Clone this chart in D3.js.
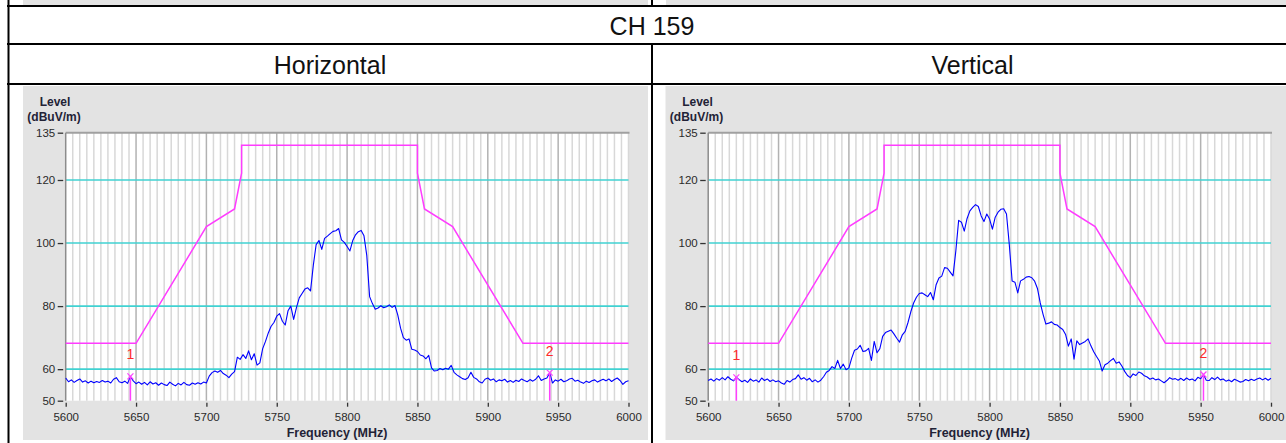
<!DOCTYPE html>
<html>
<head>
  <meta charset="utf-8">
  <title>CH 159</title>
  <script src="https://d3js.org/d3.v7.min.js"></script>
  <style>
    body { margin: 0; background: #fff; overflow: hidden; }
    text { font-family: "Liberation Sans", Arial, sans-serif; }
  </style>
</head>
<body>
<script>
  // table headings
  var channel = 'CH 159';
  var polarisations = ['Horizontal', 'Vertical'];

  // trace sampled every 2 MHz, 5600..6000
  var freqs = d3.range(5600, 6001, 2);

  var levelH = [
    57.2, 56.0, 56.6, 55.8, 56.4, 56.9, 55.9, 56.3, 55.6, 56.2,
    55.7, 56.1, 55.8, 56.4, 55.9, 56.2, 55.6, 56.8, 57.3, 56.0,
    55.7, 56.2, 55.5, 57.7, 56.3, 55.4, 55.9, 55.2, 55.8, 55.0,
    56.0, 55.3, 55.7, 54.9, 55.6, 55.1, 54.8, 55.9, 55.2, 54.7,
    55.5, 55.0, 55.8, 55.1, 54.9, 55.6, 55.2, 55.7, 55.3, 55.9,
    55.6, 57.8, 58.9, 59.4, 59.0, 59.6, 58.6, 58.1, 57.3, 58.4,
    59.2, 63.8, 63.1, 64.6, 63.4, 65.8, 63.0, 64.9, 61.3, 62.0,
    66.5, 68.8, 71.5, 73.6, 74.8, 76.8, 77.6, 75.2, 74.0, 78.5,
    80.0, 75.8, 79.5, 82.6, 84.0, 85.4, 85.8, 84.8, 93.0, 99.5,
    100.8, 98.0, 101.5, 102.2, 103.0, 103.7, 103.9, 104.6, 101.0, 100.2,
    98.9, 97.5, 100.8, 102.6, 103.6, 104.0, 102.3, 96.0, 83.0, 80.8,
    79.0, 79.4, 80.1, 79.5, 79.8, 80.4, 79.6, 80.2, 77.2, 73.0,
    70.0, 69.2, 69.6, 66.3, 66.1, 65.6, 64.5, 64.2, 63.3, 64.4,
    60.4, 59.4, 59.6, 60.2, 59.8, 60.3, 60.0, 61.2, 59.0, 58.2,
    57.6, 57.0, 56.7, 57.3, 59.0, 57.4, 56.9, 56.0, 55.6, 56.8,
    57.2, 56.5, 56.9, 56.0, 56.6, 56.3, 56.8, 55.9, 56.4, 55.8,
    56.5, 56.1, 56.9, 56.4, 56.0, 56.7, 56.2, 56.8, 57.9, 56.4,
    56.9, 57.2, 58.9, 55.6, 56.6, 56.2, 56.8, 56.0, 56.3, 56.9,
    57.1, 56.2, 56.5, 55.9, 55.5, 56.2, 55.8, 56.3, 56.6, 55.9,
    56.4, 56.8, 56.3, 56.9, 56.1, 56.7, 57.2, 56.4, 55.2, 56.0,
    56.3
  ];

  var levelV = [
    56.4, 56.9, 56.2, 57.0, 56.5, 57.3, 56.6, 57.6, 56.8, 56.3,
    57.4, 56.7, 56.0, 56.5, 55.8, 56.9, 56.2, 56.6, 55.9, 57.2,
    56.4, 56.9, 56.1, 56.6, 56.0, 56.3, 55.6, 55.2, 56.4, 55.9,
    56.7, 57.0, 58.2, 56.8, 57.3, 56.5, 57.1, 56.0, 56.6, 55.9,
    56.5, 57.6, 59.0, 59.6, 60.8, 60.2, 62.8, 60.2, 61.6, 59.8,
    60.4, 63.5, 66.0, 66.4, 67.6, 65.6, 65.8, 66.6, 62.8, 68.8,
    65.2, 66.5, 70.4, 71.6, 72.0, 72.4, 71.2, 69.8, 68.6, 70.9,
    72.0, 74.8, 78.2, 81.0, 82.8, 84.0, 84.2, 83.6, 83.0, 84.3,
    82.0, 86.8, 88.9, 89.5, 92.2, 92.0, 90.8, 89.6, 97.5, 107.2,
    106.6, 103.8, 107.8, 110.2, 111.3, 112.2, 111.6, 108.6, 106.8, 109.2,
    107.6, 104.4, 108.2, 109.8, 110.7, 110.9, 109.2, 99.5, 88.0, 87.6,
    84.2, 88.0, 88.5, 89.2, 89.4, 89.0, 87.9, 85.6, 81.0, 77.4,
    74.3, 74.6, 75.0, 74.2, 74.0, 73.2, 72.6, 71.0, 67.3, 69.6,
    63.2, 69.0, 67.8, 68.3, 68.8, 69.6, 67.4, 65.5, 64.0, 62.6,
    59.4, 61.4, 61.9, 62.7, 63.4, 61.9, 62.3, 61.0, 59.3, 58.0,
    57.3, 58.5, 58.0, 59.1, 58.7, 57.9, 57.5, 56.8, 57.2, 56.6,
    56.9, 56.3, 55.7, 56.4, 57.3, 56.8, 57.0, 56.5, 57.1, 56.4,
    57.2, 56.6, 56.9, 56.3, 57.4, 57.0, 58.3, 56.5, 56.4, 57.3,
    56.7, 57.5, 56.6, 56.9, 56.2, 56.6, 56.0, 56.8, 56.4, 55.9,
    56.1, 56.7, 56.3, 56.8, 56.4, 56.9, 57.2, 56.6, 57.1, 56.5,
    57.1
  ];

  // emission limit mask
  var limitFreq = [5600, 5650, 5700, 5720, 5725, 5725, 5850, 5850, 5855, 5875, 5925, 6000];
  var limitLevel = [68.2, 68.2, 105.2, 110.8, 122.2, 131, 131, 122.2, 110.8, 105.2, 68.2, 68.2];

  // markers 1 and 2
  var markerFreqH = [5646, 5944];
  var markerLevelH = [57.7, 58.9];
  var markerFreqV = [5620, 5952];
  var markerLevelV = [57.4, 58.3];

  var xTicks = [5600, 5650, 5700, 5750, 5800, 5850, 5900, 5950, 6000];
  var yTicks = [50, 60, 80, 100, 120, 135];
  var levelGrid = [60, 80, 100, 120];

  var svg = d3.select('body').append('svg')
    .attr('width', 1286)
    .attr('height', 443);

  // previous row's images peeking in at the top
  svg.append('rect').attr('x', 23).attr('y', 0).attr('width', 625).attr('height', 5).attr('fill', '#e3e3e3');
  svg.append('rect').attr('x', 666).attr('y', 0).attr('width', 625).attr('height', 5).attr('fill', '#e3e3e3');

  // table rules
  [6, 44, 84].forEach(function(y) {
    svg.append('line')
      .attr('x1', 7).attr('x2', 1286).attr('y1', y).attr('y2', y)
      .attr('stroke', '#000').attr('stroke-width', 2);
  });
  svg.append('line').attr('x1', 8.5).attr('x2', 8.5).attr('y1', 0).attr('y2', 443)
    .attr('stroke', '#000').attr('stroke-width', 2);
  svg.append('line').attr('x1', 652).attr('x2', 652).attr('y1', 0).attr('y2', 6)
    .attr('stroke', '#000').attr('stroke-width', 2);
  svg.append('line').attr('x1', 652).attr('x2', 652).attr('y1', 44).attr('y2', 443)
    .attr('stroke', '#000').attr('stroke-width', 2);

  svg.append('text')
    .attr('x', 652).attr('y', 35)
    .attr('text-anchor', 'middle')
    .attr('font-size', 25)
    .attr('fill', '#111')
    .text(channel);

  svg.selectAll('.pol')
    .data(polarisations)
    .enter().append('text')
    .attr('class', 'pol')
    .attr('x', function(d, i) { return i === 0 ? 330 : 972.5; })
    .attr('y', 74)
    .attr('text-anchor', 'middle')
    .attr('font-size', 25)
    .attr('fill', '#111')
    .text(function(d) { return d; });

  function drawPanel(ox, levels, mFreq, mLevel) {
    var g = svg.append('g').attr('transform', 'translate(' + ox + ',86)');

    var x = d3.scaleLinear().domain([5600, 6000]).range([42.7, 605.5]);
    var y = d3.scaleLinear().domain([50, 135]).range([314.7, 46.7]);

    g.append('rect')
      .attr('width', 625).attr('height', 354)
      .attr('fill', '#e3e3e3');

    g.append('rect')
      .attr('x', x(5600)).attr('y', y(135))
      .attr('width', x(6000) - x(5600)).attr('height', y(50) - y(135))
      .attr('fill', '#fff');

    // 5 MHz minor grid
    g.selectAll('.minor')
      .data(d3.range(5605, 6001, 5).filter(function(f) { return f % 50 !== 0 || f === 6000; }))
      .enter().append('line')
      .attr('x1', function(d) { return x(d); }).attr('x2', function(d) { return x(d); })
      .attr('y1', y(135)).attr('y2', y(50))
      .attr('stroke', '#d8d8d8').attr('stroke-width', 1.5);

    // 50 MHz major grid
    g.selectAll('.major')
      .data(xTicks.slice(1, -1))
      .enter().append('line')
      .attr('x1', function(d) { return x(d); }).attr('x2', function(d) { return x(d); })
      .attr('y1', y(135)).attr('y2', y(50))
      .attr('stroke', '#b2b2b2').attr('stroke-width', 1.5);

    g.selectAll('.hgrid')
      .data(levelGrid)
      .enter().append('line')
      .attr('x1', x(5600)).attr('x2', x(6000))
      .attr('y1', function(d) { return y(d); }).attr('y2', function(d) { return y(d); })
      .attr('stroke', '#40d2d2').attr('stroke-width', 1.6);

    g.append('line')
      .attr('x1', x(5600)).attr('x2', x(6000) + 1)
      .attr('y1', y(135)).attr('y2', y(135))
      .attr('stroke', '#a0a0a0').attr('stroke-width', 2);
    g.append('line')
      .attr('x1', x(5600)).attr('x2', x(5600))
      .attr('y1', y(135)).attr('y2', y(50))
      .attr('stroke', '#8c8c8c').attr('stroke-width', 1.5);

    // limit mask
    g.append('path')
      .datum(d3.range(limitFreq.length))
      .attr('fill', 'none')
      .attr('stroke', '#ff3cff')
      .attr('stroke-width', 1.5)
      .attr('d', d3.line()
        .x(function(i) { return x(limitFreq[i]); })
        .y(function(i) { return y(limitLevel[i]); }));

    // measured trace
    g.append('path')
      .datum(d3.range(freqs.length))
      .attr('fill', 'none')
      .attr('stroke', '#0000ff')
      .attr('stroke-width', 1.1)
      .attr('stroke-linejoin', 'round')
      .attr('d', d3.line()
        .x(function(i) { return x(freqs[i]); })
        .y(function(i) { return y(levels[i]); }));

    // markers
    mFreq.forEach(function(f, i) {
      var mx = x(f), my = y(mLevel[i]);
      g.append('line')
        .attr('x1', mx).attr('x2', mx).attr('y1', my).attr('y2', y(50))
        .attr('stroke', '#ff40ff').attr('stroke-width', 1.5);
      g.append('path')
        .attr('d', 'M' + (mx - 3) + ',' + (my - 3) + 'L' + (mx + 3) + ',' + (my + 3) +
                   'M' + (mx + 3) + ',' + (my - 3) + 'L' + (mx - 3) + ',' + (my + 3))
        .attr('stroke', '#ff40ff').attr('stroke-width', 1.2);
      g.append('text')
        .attr('x', mx).attr('y', my - 17)
        .attr('text-anchor', 'middle')
        .attr('font-size', 14)
        .attr('fill', '#ff2a2a')
        .text(String(i + 1));
    });

    // axes
    var yAxis = g.append('g')
      .attr('transform', 'translate(' + (x(5600) - 2.5) + ',0)')
      .call(d3.axisLeft(y).tickValues(yTicks).tickSize(5.5).tickPadding(2.5));
    var xAxis = g.append('g')
      .attr('transform', 'translate(0,' + (y(50) + 2) + ')')
      .call(d3.axisBottom(x).tickValues(xTicks).tickFormat(d3.format('d')).tickSize(4).tickPadding(6));
    [yAxis, xAxis].forEach(function(a) {
      a.select('.domain').remove();
      a.selectAll('line').attr('stroke', '#333').attr('stroke-width', 1.3);
      a.selectAll('text')
        .attr('font-family', '"Liberation Sans", Arial, sans-serif')
        .attr('font-size', 11.5)
        .attr('fill', '#2a2a2a');
    });

    g.append('text')
      .attr('x', 32).attr('y', 19.7)
      .attr('text-anchor', 'middle')
      .attr('font-size', 12)
      .attr('font-weight', 'bold')
      .attr('fill', '#222236')
      .text('Level');
    g.append('text')
      .attr('x', 31).attr('y', 34.5)
      .attr('text-anchor', 'middle')
      .attr('font-size', 12)
      .attr('font-weight', 'bold')
      .attr('fill', '#222236')
      .text('(dBuV/m)');
    g.append('text')
      .attr('x', 314).attr('y', 351)
      .attr('text-anchor', 'middle')
      .attr('font-size', 12.5)
      .attr('font-weight', 'bold')
      .attr('fill', '#222236')
      .text('Frequency (MHz)');
  }

  drawPanel(23, levelH, markerFreqH, markerLevelH);
  drawPanel(665.5, levelV, markerFreqV, markerLevelV);
</script>
</body>
</html>
